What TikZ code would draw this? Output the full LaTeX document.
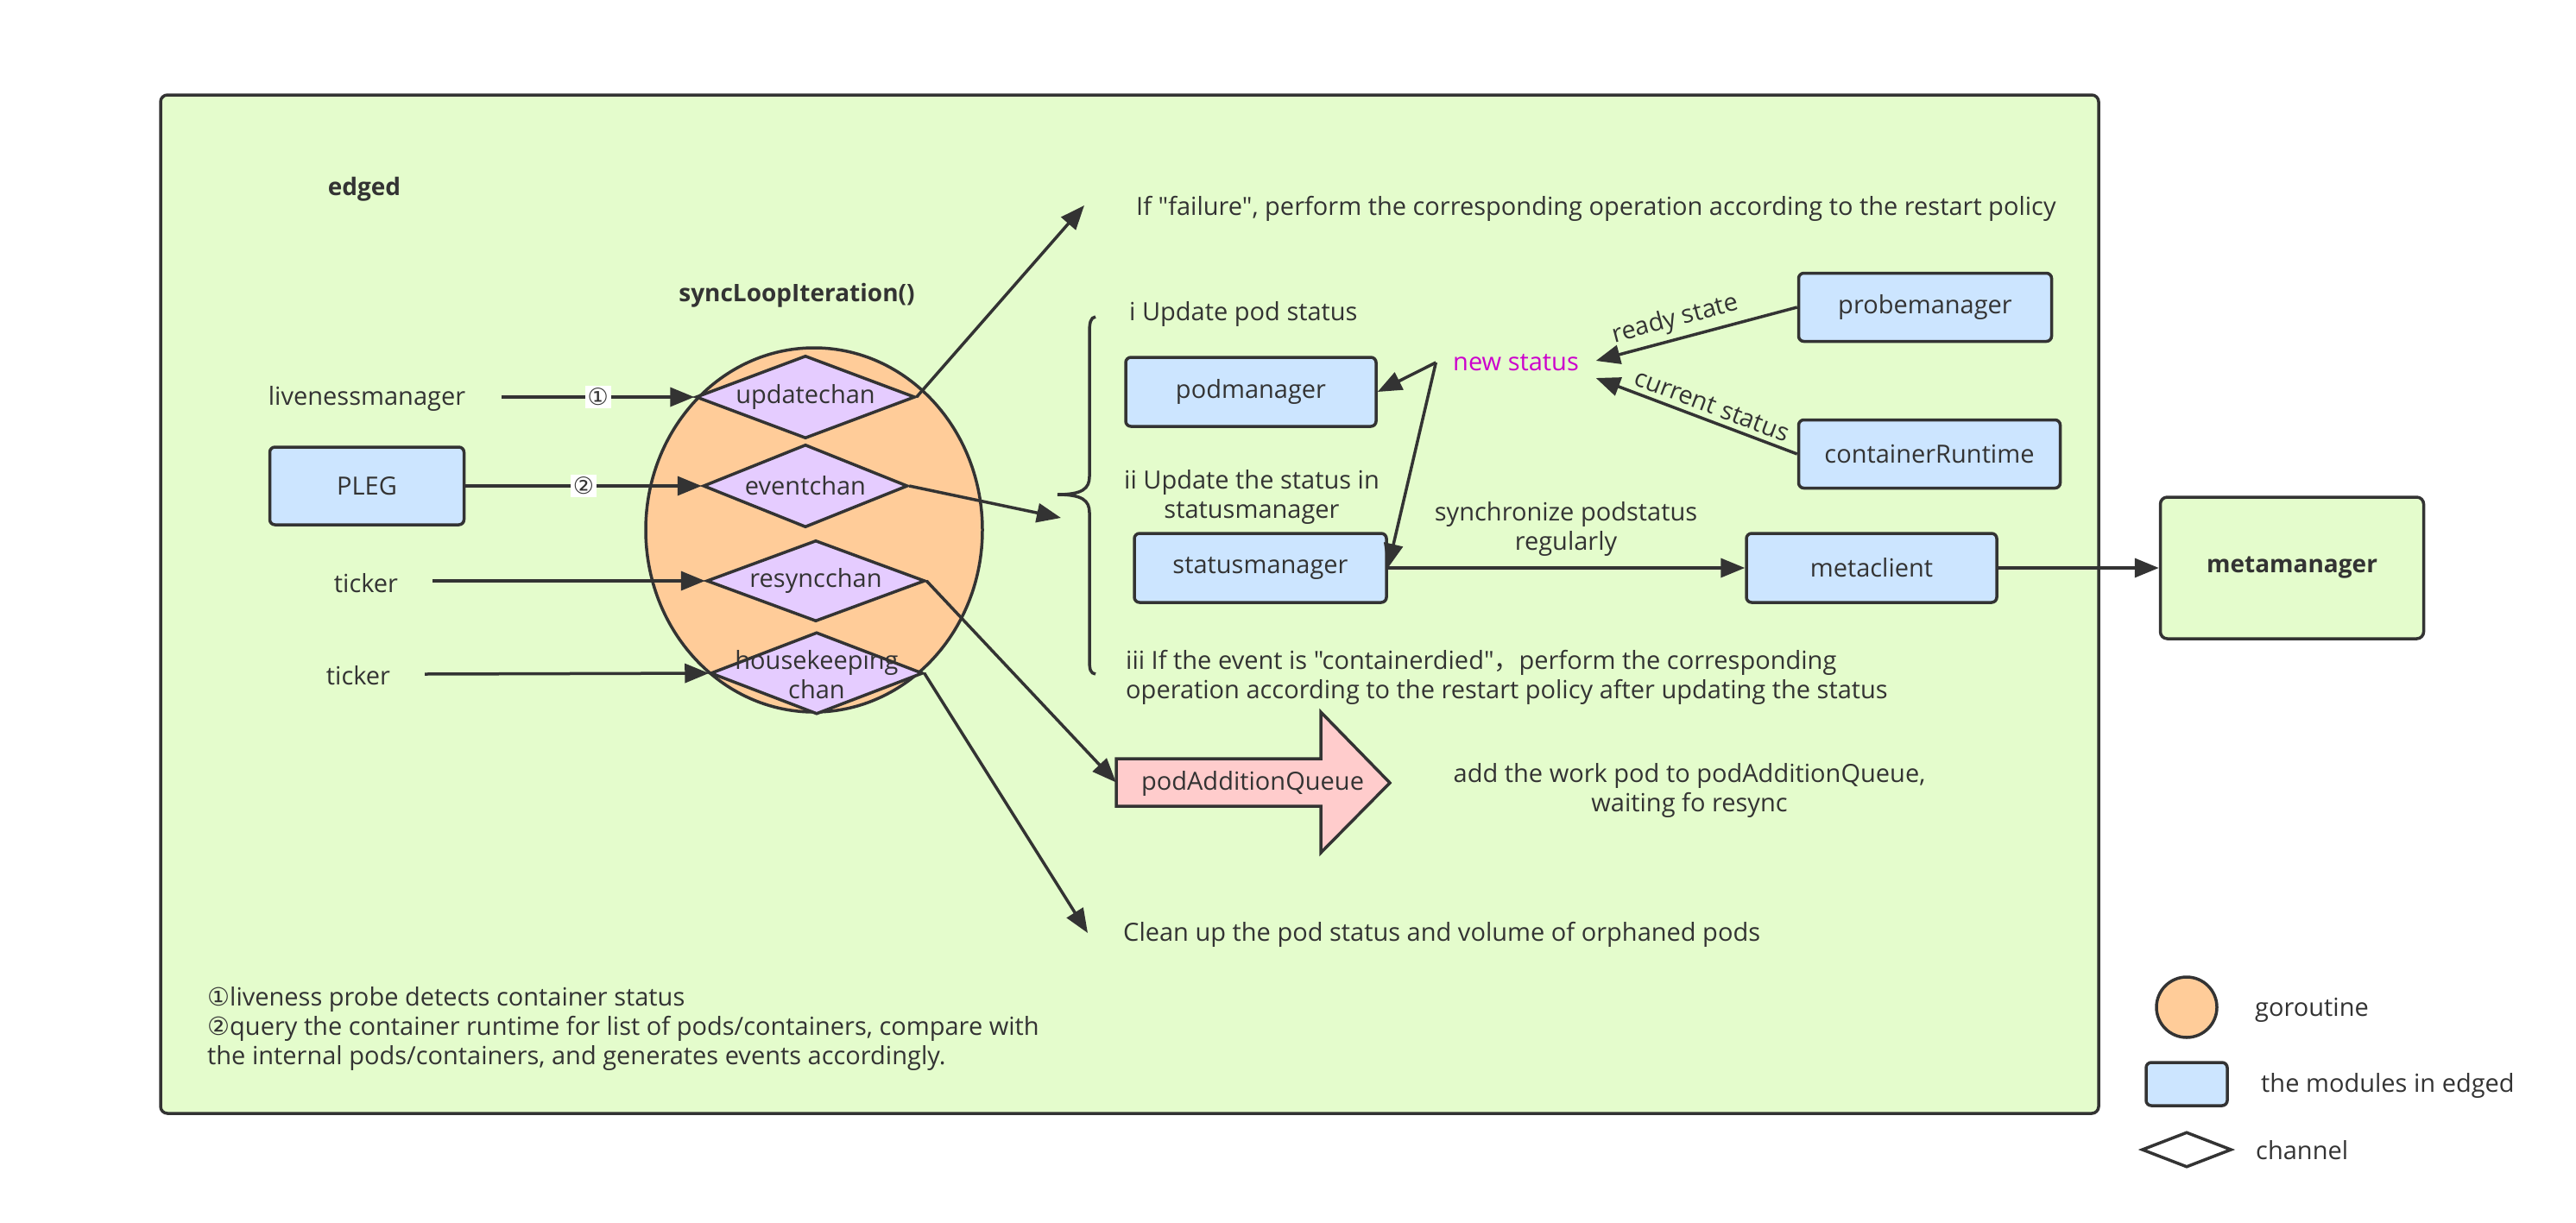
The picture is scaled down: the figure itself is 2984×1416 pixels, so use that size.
\documentclass[tikz,border=0pt]{standalone}
\usepackage{fontspec}
\setmainfont{Open Sans}[Ligatures=TeXOff]
\newfontfamily\dejavu{DejaVu Sans}
\newfontfamily\cjk{Noto Sans CJK SC}
\usetikzlibrary{arrows.meta,shapes.geometric}
\definecolor{bggreen}{RGB}{228,252,204}
\definecolor{linegray}{RGB}{51,51,51}
\definecolor{textgray}{RGB}{51,51,51}
\definecolor{gorange}{RGB}{255,204,153}
\definecolor{chanpurple}{RGB}{229,204,255}
\definecolor{modblue}{RGB}{204,229,255}
\definecolor{pqpink}{RGB}{255,204,204}
\definecolor{nsmagenta}{RGB}{204,0,204}
\newcommand\fsmain{\fontsize{29}{34}\selectfont}
\newcommand\fsleg{\fontsize{29}{34}\selectfont}
\newcommand\fsbold{\fontsize{28}{34}\selectfont\bfseries}
\tikzset{
  frame/.style={draw=linegray, line width=3.5pt, fill=bggreen, rounded corners=8pt},
  arr/.style={draw=linegray, line width=3.5pt, -{Triangle[length=28pt,width=22pt]}},
  txt/.style={text=textgray, font=\fsmain, inner sep=0pt},
  legtxt/.style={text=textgray, font=\fsleg, inner sep=0pt, anchor=west},
  boldtxt/.style={text=textgray, font=\fsbold, inner sep=0pt},
  module/.style={draw=linegray, line width=3.5pt, fill=modblue, rounded corners=6pt, inner sep=0pt, text=textgray, font=\fsmain},
  outmodule/.style={draw=linegray, line width=3.5pt, fill=bggreen, rounded corners=8pt, inner sep=0pt, text=textgray, font=\fsbold},
  chan/.style={diamond, draw=linegray, line width=3.5pt, fill=chanpurple, inner sep=0pt},
  goroutine/.style={ellipse, draw=linegray, line width=3.5pt, fill=gorange, inner sep=0pt},
  numlbl/.style={fill=white, text=textgray, font=\dejavu\fontsize{27}{30}\selectfont, inner sep=3pt},
  slopelbl/.style={text=textgray, font=\fsmain, sloped, above, inner sep=6pt},
  pqshape/.style={draw=linegray, line width=3.5pt, fill=pqpink},
}
\begin{document}
\begin{tikzpicture}[x=1pt,y=-1pt]
\useasboundingbox (0,0) rectangle (2984,1416);
\fill[white] (0,0) rectangle (2984,1416);

% container
\draw[frame] (186,110) rectangle (2431,1290);
\node[boldtxt] (tEdged) at (422,219) {edged};
\node[boldtxt] (tSync) at (923,342) {syncLoopIteration()};

% goroutine and channels
\node[goroutine, minimum width=390, minimum height=422] (gr) at (943,614) {};
\node[chan, minimum width=254, minimum height=96] (upd) at (933,460) {};
\node[txt] (updT) at (933,460) {updatechan};
\node[chan, minimum width=237, minimum height=96] (evt) at (933,563) {};
\node[txt] (evtT) at (933,563) {eventchan};
\node[chan, minimum width=253, minimum height=94] (rsy) at (945,673) {};
\node[txt] (rsyT) at (945,673) {resyncchan};
\node[chan, minimum width=246, minimum height=95] (hk) at (946,780) {};
\node[txt, align=center] (hkT) at (946,782) {housekeeping\\chan};

% inputs
\node[txt] (lv) at (425,462) {livenessmanager};
\node[module, minimum width=225, minimum height=90] (pleg) at (425,563) {PLEG};
\node[txt] (tk1) at (424,676) {ticker};
\node[txt] (tk2) at (415,783) {ticker};
\coordinate (lvS) at (581,460);
\coordinate (tk1S) at (501,673);
\coordinate (tk2S) at (492,781);
\draw[arr] (lvS) -- node[numlbl] {①} (upd.west);
\draw[arr] (pleg.east) -- node[numlbl, pos=0.5] {②} (evt.west);
\draw[arr] (tk1S) -- (rsy.west);
\draw[arr] (tk2S) -- (hk.west);

% failure branch
\coordinate (failTip) at (1256,238);
\node[txt, anchor=west] (tFail) at (1316,242) {If "failure", perform the corresponding operation according to the restart policy};
\draw[arr] (upd.east) -- (failTip);

% brace
\draw[draw=linegray, line width=3.5pt] (1269,367) .. controls (1263,368) and (1262,374) .. (1262,386) -- (1262,552) .. controls (1262,566) and (1254,573) .. (1225,573) .. controls (1254,573) and (1262,580) .. (1262,594) -- (1262,764) .. controls (1262,776) and (1263,780) .. (1269,781);
\coordinate (braceTip) at (1229,600);
\draw[arr] (evt.east) -- (braceTip);

% update section
\node[txt, anchor=west] (tI) at (1308,364) {i Update pod status};
\node[module, minimum width=290, minimum height=80] (pod) at (1449,454) {podmanager};
\node[txt, align=center] (tII) at (1450,576) {ii Update the status in\\statusmanager};
\node[module, minimum width=292, minimum height=80] (sm) at (1460,658) {statusmanager};
\node[txt, text=nsmagenta, minimum width=185, minimum height=30] (ns) at (1756,420) {new status};
\node[module, minimum width=293, minimum height=79] (probe) at (2230,356) {probemanager};
\node[module, minimum width=303, minimum height=79] (cr) at (2235,526) {containerRuntime};
\node[module, minimum width=290, minimum height=80] (mc) at (2168,658) {metaclient};
\node[outmodule, minimum width=305, minimum height=164] (mm) at (2655,658) {metamanager};
\node[txt, align=center] (tSyncReg) at (1814,613) {synchronize podstatus\\regularly};
\node[txt, align=left, anchor=west] (tIII) at (1304,785) {iii If the event is "containerdied"{\cjk ，}perform the corresponding\\operation according to the restart policy after updating the status};

\draw[arr] (ns.west) -- (pod.east);
\draw[arr] (ns.west) -- (sm.east);
\draw[arr] (probe.west) -- node[slopelbl, pos=0.58] {ready state} ([yshift=2pt]ns.east);
\draw[arr] (cr.west) -- node[slopelbl, pos=0.45] {current status} ([yshift=-18pt]ns.east);
\draw[arr] (sm.east) -- (mc.west);
\draw[arr] (mc.east) -- (mm.west);

% podAdditionQueue
\draw[pqshape] (1293,879) -- (1530,879) -- (1530,825) -- (1610,907) -- (1530,988) -- (1530,934) -- (1293,934) -- cycle;
\node[minimum width=237, minimum height=55, inner sep=0pt] (pq) at (1411.5,906.5) {};
\node[txt] (pqT) at (1451,908) {podAdditionQueue};
\draw[arr] (rsy.east) -- (pq.west);
\node[txt, align=center] (tAdd) at (1957,916) {add the work pod to podAdditionQueue,\\waiting fo resync};

% housekeeping
\coordinate (cleanTip) at (1260,1081);
\draw[arr] (hk.east) -- (cleanTip);
\node[txt, anchor=west] (tClean) at (1301,1083) {Clean up the pod status and volume of orphaned pods};

% notes
\node[txt, align=left, anchor=west] (tNotes) at (240,1192) {{\dejavu ①}liveness probe detects container status\\{\dejavu ②}query the container runtime for list of pods/containers, compare with\\the internal pods/containers, and generates events accordingly.};

% legend
\node[circle, draw=linegray, line width=3.5pt, fill=gorange, minimum size=70, inner sep=0pt] (lgCirc) at (2533,1167) {};
\node[legtxt] (lgT1) at (2612,1170) {goroutine};
\node[module, minimum width=94, minimum height=50] (lgRect) at (2533,1256) {};
\node[legtxt] (lgT2) at (2619,1258) {the modules in edged};
\node[diamond, draw=linegray, line width=3.5pt, fill=white, minimum width=104, minimum height=41, inner sep=0pt] (lgDia) at (2533,1332) {};
\node[legtxt] (lgT3) at (2613,1333) {channel};
\end{tikzpicture}
\end{document}
